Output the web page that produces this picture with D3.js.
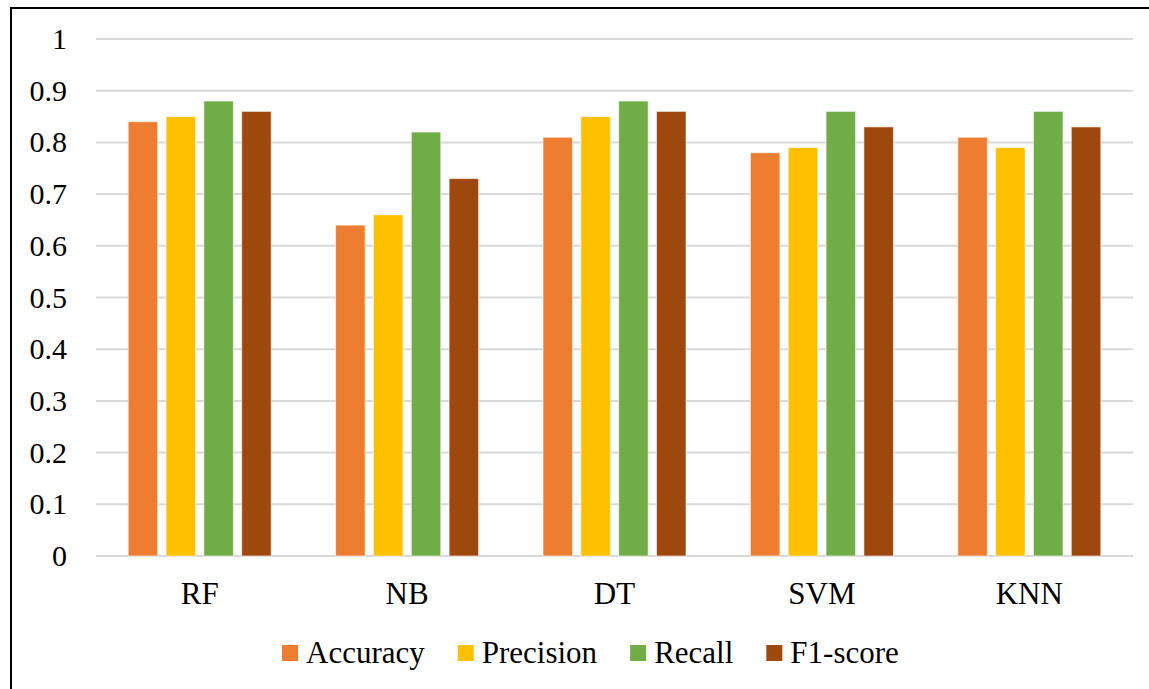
<!DOCTYPE html>
<html>
<head>
<meta charset="utf-8">
<script src="https://cdn.jsdelivr.net/npm/d3@7"></script>
<style>
  body { margin: 0; background: #fff; }
  text { font-family: "Liberation Serif", "Times New Roman", serif; fill: #000; }
</style>
</head>
<body>
<div id="chart"></div>
<script>
var models = ["RF", "NB", "DT", "SVM", "KNN"];
var metrics = ["Accuracy", "Precision", "Recall", "F1-score"];
var accuracy = [0.84, 0.64, 0.81, 0.78, 0.81];
var precision = [0.85, 0.66, 0.85, 0.79, 0.79];
var recall = [0.88, 0.82, 0.88, 0.86, 0.86];
var f1score = [0.86, 0.73, 0.86, 0.83, 0.83];
var yTicks = [0, 0.1, 0.2, 0.3, 0.4, 0.5, 0.6, 0.7, 0.8, 0.9, 1];
var colors = ["#ED7D31", "#FFC000", "#70AD47", "#9E480E"];

var series = [accuracy, precision, recall, f1score];

var w = 1149;
var h = 689;
var plotLeft = 96, plotRight = 1133, plotTop = 39, plotBottom = 556;
var groupW = 143;

var svg = d3.select('#chart').
append('svg').
attr('width', w).
attr('height', h);

// outer frame
svg.append('rect').
attr('x', 11).
attr('y', 8).
attr('width', w).
attr('height', h).
attr('fill', 'none').
attr('stroke', '#000').
attr('stroke-width', 2);

var x0 = d3.scaleBand().
domain(models).
range([plotLeft, plotRight]).
paddingInner(0).
paddingOuter(0);

var x1 = d3.scaleBand().
domain(metrics).
range([0, groupW]).
paddingInner(0.22).
paddingOuter(0);

var y = d3.scaleLinear().
domain([0, 1]).
range([plotBottom, plotTop]);

// gridlines
svg.append('g').
selectAll('line').
data(yTicks).
enter().
append('line').
attr('x1', plotLeft).
attr('x2', plotRight).
attr('y1', d => y(d)).
attr('y2', d => y(d)).
attr('stroke', '#d9d9d9').
attr('stroke-width', 2);

// y tick labels
svg.append('g').
selectAll('text').
data(yTicks).
enter().
append('text').
attr('x', 67).
attr('y', d => y(d) + 10).
attr('text-anchor', 'end').
style('font-size', '30px').
text(d => d);

// bars
var groups = svg.selectAll('.group').
data(models).
enter().
append('g').
attr('class', 'group').
attr('transform', d => 'translate(' + (x0(d) + (x0.bandwidth() - groupW) / 2) + ',0)');

groups.selectAll('rect').
data((d, i) => metrics.map((m, j) => ({ metric: m, value: series[j][i], color: colors[j] }))).
enter().
append('rect').
attr('x', d => x1(d.metric)).
attr('width', x1.bandwidth()).
attr('y', d => y(d.value)).
attr('height', d => y(0) - y(d.value)).
attr('fill', d => d.color).
attr('stroke', 'rgba(255,255,255,0.6)').
attr('stroke-width', 1);

// category labels
svg.append('g').
selectAll('text').
data(models).
enter().
append('text').
attr('x', d => x0(d) + x0.bandwidth() / 2).
attr('y', 604).
attr('text-anchor', 'middle').
style('font-size', '31px').
text(d => d);

// legend
var legend = svg.append('g').attr('class', 'legend');
var lx = 282;
metrics.forEach(function (m, i) {
  legend.append('rect').
  attr('x', lx).
  attr('y', 645).
  attr('width', 16).
  attr('height', 16).
  attr('fill', colors[i]);
  var t = legend.append('text').
  attr('x', lx + 24).
  attr('y', 663).
  style('font-size', '31px').
  text(m);
  lx += 24 + t.node().getComputedTextLength() + 33;
});
</script>
</body>
</html>
